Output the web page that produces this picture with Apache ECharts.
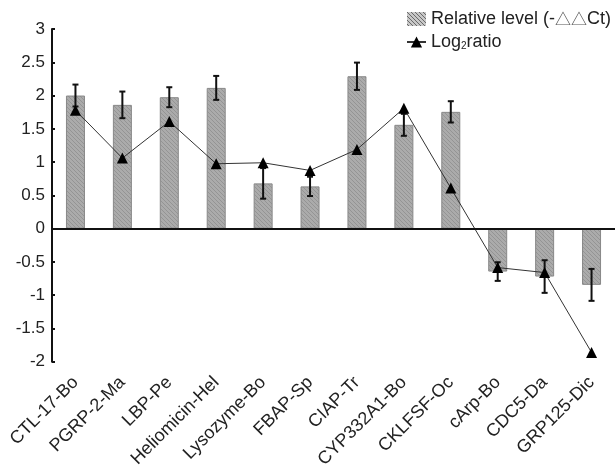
<!DOCTYPE html>
<html><head><meta charset="utf-8">
<script src="https://cdn.jsdelivr.net/npm/echarts@6/dist/echarts.min.js"></script>
<style>html,body{margin:0;padding:0;background:#fff}#c{width:615px;height:471px}</style>
</head><body><div id="c"></div>
<script>
var categories = ['CTL-17-Bo','PGRP-2-Ma','LBP-Pe','Heliomicin-Hel','Lysozyme-Bo','FBAP-Sp','CIAP-Tr','CYP332A1-Bo','CKLFSF-Oc','cArp-Bo','CDC5-Da','GRP125-Dic'];
var relativeLevel = [2.0, 1.86, 1.975, 2.115, 0.68, 0.635, 2.29, 1.56, 1.755, -0.645, -0.72, -0.845];
var relativeErr = [0.165, 0.2, 0.15, 0.18, 0.23, 0.145, 0.205, 0.165, 0.16, 0.14, 0.245, 0.24];
var log2Ratio = [1.78, 1.06, 1.61, 0.975, 0.99, 0.875, 1.19, 1.81, 0.61, -0.585, -0.66, -1.86];
var yTicks = [-2, -1.5, -1, -0.5, 0, 0.5, 1, 1.5, 2, 2.5, 3];

function hatch(bg, fg) {
  var cv = document.createElement('canvas');
  cv.width = 4; cv.height = 4;
  var g = cv.getContext('2d');
  g.fillStyle = bg; g.fillRect(0, 0, 4, 4);
  g.strokeStyle = fg; g.lineWidth = 1;
  g.beginPath(); g.moveTo(0, 0); g.lineTo(4, 4); g.moveTo(-2, 2); g.lineTo(2, 6); g.moveTo(2, -2); g.lineTo(6, 2); g.stroke();
  return cv;
}
var pat = hatch('#ababab', '#949494');
var patLegend = hatch('#c8c8c8', '#6a6a6a');

var errData = relativeLevel.map(function (v, i) { return [i, v - relativeErr[i], v + relativeErr[i]]; });

var chart = echarts.init(document.getElementById('c'), null, {renderer: 'canvas'});
chart.setOption({
  animation: false,
  textStyle: {fontFamily: 'Liberation Sans, Arial, sans-serif'},
  grid: {left: 52, right: 0, top: 29, bottom: 107, containLabel: false},
  legend: {
    orient: 'vertical', left: 401, top: 5, align: 'left', itemGap: 5,
    itemWidth: 19, itemHeight: 14,
    textStyle: {fontSize: 18, color: '#222',
      rich: {
        n: {fontSize: 18, color: '#222'},
        t: {fontSize: 16, color: '#555', fontFamily: 'Noto Sans CJK SC'},
        s: {fontSize: 10, color: '#222', verticalAlign: 'bottom', padding: [9, 0, 0, 0]}
      }},
    formatter: function (name) {
      if (name === 'log2') return '{n|Log}{s|2}{n|ratio}';
      return '{n|Relative level (-}{t|△△}{n|Ct)}';
    },
    data: [{name: 'Relative level (-△△Ct)', icon: 'rect', itemStyle: {color: {image: patLegend, repetition: 'repeat'}, borderWidth: 0}}, {name: 'log2'}]
  },
  xAxis: {
    type: 'category', data: categories,
    axisLine: {show: false, onZero: false}, axisTick: {show: false},
    axisLabel: {rotate: 45, fontSize: 18, color: '#222', margin: 18, interval: 0}
  },
  yAxis: {
    type: 'value', min: -2, max: 3, interval: 0.5,
    splitLine: {show: false},
    axisLine: {show: true, lineStyle: {color: '#111', width: 2}},
    axisTick: {show: true, inside: true, length: 3, lineStyle: {color: '#111', width: 2}},
    axisLabel: {fontSize: 17, color: '#222', margin: 7,
      formatter: function (v) { return yTicks.indexOf(v) >= 0 ? String(v) : ''; }}
  },
  series: [
    {
      name: 'Relative level (-△△Ct)', type: 'bar', data: relativeLevel, barWidth: 19,
      itemStyle: {color: {image: pat, repetition: 'repeat'}, borderColor: '#888', borderWidth: 1},
      markLine: {silent: true, symbol: 'none', label: {show: false},
        lineStyle: {color: '#111', width: 2, type: 'solid'}, data: [{yAxis: 0}]}
    },
    {
      name: 'err', type: 'custom', data: errData, z: 3,
      renderItem: function (params, api) {
        var lo = api.coord([api.value(0), api.value(1)]);
        var hi = api.coord([api.value(0), api.value(2)]);
        var c = 3;
        var st = {stroke: '#111', lineWidth: 2};
        return {type: 'group', children: [
          {type: 'line', shape: {x1: hi[0], y1: hi[1], x2: lo[0], y2: lo[1]}, style: st},
          {type: 'line', shape: {x1: hi[0] - c, y1: hi[1], x2: hi[0] + c, y2: hi[1]}, style: st},
          {type: 'line', shape: {x1: lo[0] - c, y1: lo[1], x2: lo[0] + c, y2: lo[1]}, style: st}
        ]};
      }
    },
    {
      name: 'log2', type: 'line', data: log2Ratio, z: 4,
      symbol: 'triangle', symbolSize: 11,
      lineStyle: {color: '#333', width: 1},
      itemStyle: {color: '#000'}
    }
  ]
});
</script></body></html>
